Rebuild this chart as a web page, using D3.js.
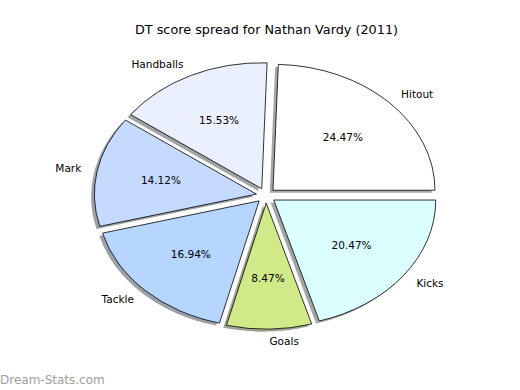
<!DOCTYPE html>
<html>
<head>
<meta charset="utf-8">
<script src="https://cdn.jsdelivr.net/npm/d3@7"></script>
<style>
  body { margin: 0; background: #fff; }
  svg { display: block; font-family: "DejaVu Sans", sans-serif; }
</style>
</head>
<body>
<svg width="520" height="390"></svg>
<script>
const labels = ['Hitout', 'Handballs', 'Mark', 'Tackle', 'Goals', 'Kicks'];
const shares = [24.47, 15.53, 14.12, 16.94, 8.47, 20.47];
const colours = ['#ffffff', '#eaf0ff', '#c6d9ff', '#b6d6ff', '#d0ea8a', '#dbffff'];
const titleText = 'DT score spread for Nathan Vardy (2011)';

const svg = d3.select('svg');
const cx = 266, cy = 195.5, rx = 162, ry = 126;
const explode = 0.06;

// unit pie coords -> pixels (ellipse, like a non-equal aspect matplotlib axes)
const x = d3.scaleLinear().domain([-1, 1]).range([cx - rx, cx + rx]);
const y = d3.scaleLinear().domain([-1, 1]).range([cy + ry, cy - ry]);

// start at 3 o'clock and go counter-clockwise
const pie = d3.pie().sort(null).startAngle(Math.PI / 2).endAngle(Math.PI / 2 - 2 * Math.PI);
const arcs = pie(shares);
const arc = d3.arc().innerRadius(0).outerRadius(1);

const slices = arcs.map((d, i) => {
    const mid = (d.startAngle + d.endAngle) / 2;
    const ux = Math.sin(mid), uy = Math.cos(mid);
    return { d, i, ux, uy, ox: explode * ux, oy: explode * uy };
});

const shade = c => {
    const k = d3.rgb(c);
    return d3.rgb(k.r * 0.3, k.g * 0.3, k.b * 0.3);
};

// shadows first
svg.append('g').selectAll('path')
    .data(slices)
    .enter()
    .append('path')
    .attr('d', s => arc(s.d))
    .attr('transform', s => `translate(${x(s.ox - 0.02)},${y(s.oy - 0.02)}) scale(${rx},${ry})`)
    .attr('fill', s => shade(colours[s.i]))
    .attr('fill-opacity', 0.5);

svg.append('g').selectAll('path')
    .data(slices)
    .enter()
    .append('path')
    .attr('d', s => arc(s.d))
    .attr('transform', s => `translate(${x(s.ox)},${y(s.oy)}) scale(${rx},${ry})`)
    .attr('fill', s => colours[s.i])
    .attr('stroke', '#000')
    .attr('stroke-width', 0.8)
    .attr('vector-effect', 'non-scaling-stroke');

// outer labels
svg.append('g').selectAll('text')
    .data(slices)
    .enter()
    .append('text')
    .attr('x', s => x(s.ox + 1.1 * s.ux))
    .attr('y', s => y(s.oy + 1.1 * s.uy))
    .attr('dy', '0.35em')
    .attr('text-anchor', s => s.ux > 0 ? 'start' : 'end')
    .attr('font-size', 10.5)
    .text(s => labels[s.i]);

// percentages
svg.append('g').selectAll('text')
    .data(slices)
    .enter()
    .append('text')
    .attr('x', s => x(s.ox + 0.6 * s.ux))
    .attr('y', s => y(s.oy + 0.6 * s.uy))
    .attr('dy', '0.35em')
    .attr('text-anchor', 'middle')
    .attr('font-size', 10.5)
    .text(s => shares[s.i].toFixed(2) + '%');

svg.append('text')
    .attr('x', 266.5)
    .attr('y', 34)
    .attr('text-anchor', 'middle')
    .attr('font-size', 12.8)
    .text(titleText);

svg.append('text')
    .attr('x', 0)
    .attr('y', 384)
    .attr('font-size', 12)
    .attr('fill', '#a0a0a0')
    .text('Dream-Stats.com');
</script>
</body>
</html>
